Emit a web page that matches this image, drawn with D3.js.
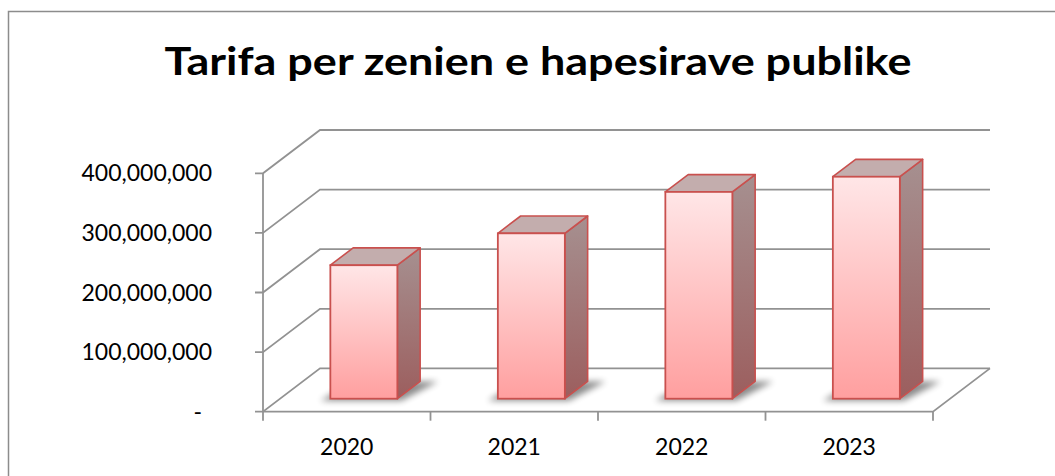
<!DOCTYPE html>
<html>
<head>
  <meta charset="utf-8">
  <script src="https://d3js.org/d3.v7.min.js"></script>
  <style>
    body { margin: 0; background: #fff; }
    .tick-label { font-family: Lato, "Open Sans", sans-serif; font-size: 23px; fill: #000; }
    .title { font-family: Lato, "Open Sans", sans-serif; font-size: 39px; font-weight: bold; fill: #000; }
  </style>
</head>
<body>
  <svg width="1055" height="476"></svg>
  <script>
    const years = ['2020', '2021', '2022', '2023'];
    const values = [224000000, 277500000, 347000000, 372500000];
    const yTicks = [0, 100000000, 200000000, 300000000, 400000000];
    const title = 'Tarifa per zenien e hapesirave publike';

    const svg = d3.select('svg');
    const defs = svg.append('defs');

    // front plane of the plot and the depth offset of the back wall
    const plot = { left: 263, right: 933, top: 173.3, bottom: 411.7 };
    const depth = { dx: 57, dy: -43.3 };
    const barDepth = [0.3, 0.7];

    const xScale = d3.scaleBand().domain(years).range([plot.left, plot.right]).padding(0);
    const yScale = d3.scaleLinear().domain([0, 400000000]).range([plot.bottom, plot.top]);
    const fmt = d3.format(',');

    const front = defs.append('linearGradient').attr('id', 'front')
      .attr('x1', 0).attr('y1', 0).attr('x2', 0).attr('y2', 1);
    front.append('stop').attr('offset', '0%').attr('stop-color', '#ffe6e7');
    front.append('stop').attr('offset', '100%').attr('stop-color', '#ff9f9f');
    const side = defs.append('linearGradient').attr('id', 'side')
      .attr('x1', 0).attr('y1', 0).attr('x2', 0).attr('y2', 1);
    side.append('stop').attr('offset', '0%').attr('stop-color', '#a69090');
    side.append('stop').attr('offset', '100%').attr('stop-color', '#9c5e5e');
    defs.append('filter').attr('id', 'blur')
      .attr('x', '-50%').attr('y', '-50%').attr('width', '200%').attr('height', '200%')
      .append('feGaussianBlur').attr('stdDeviation', 3);

    // outer border
    svg.append('rect')
      .attr('x', 8.5).attr('y', 11.5).attr('width', 1060).attr('height', 480)
      .attr('fill', 'none').attr('stroke', '#8c8c8c').attr('stroke-width', 1.5);

    svg.append('text').attr('class', 'title')
      .attr('x', 538).attr('y', 75)
      .attr('text-anchor', 'middle')
      .attr('textLength', 747).attr('lengthAdjust', 'spacingAndGlyphs')
      .text(title);

    const grid = svg.append('g')
      .attr('stroke', '#929292').attr('stroke-width', 1.8).attr('fill', 'none');

    // back wall lines + left wall diagonals + tick marks
    yTicks.forEach(t => {
      const y = yScale(t);
      grid.append('path').attr('d', `M${plot.left - 8},${y}H${plot.left}l${depth.dx},${depth.dy}H${plot.right + depth.dx}`);
    });
    // left axis line
    grid.append('path').attr('d', `M${plot.left},${yScale(400000000)}V${plot.bottom}`);
    // floor front edge and right edge
    grid.append('path').attr('d', `M${plot.left},${plot.bottom}H${plot.right}l${depth.dx},${depth.dy}`);
    // category ticks
    years.concat(['end']).forEach((c, i) => {
      const x = plot.left + i * xScale.bandwidth();
      grid.append('path').attr('d', `M${x},${plot.bottom}v9`);
    });

    // y labels
    svg.append('g').selectAll('text').data(yTicks).join('text')
      .attr('class', 'tick-label')
      .attr('x', d => d === 0 ? 202 : 212)
      .attr('y', d => yScale(d))
      .attr('dy', '0.35em')
      .attr('text-anchor', 'end')
      .text(d => d === 0 ? '-' : fmt(d));

    // x labels
    svg.append('g').selectAll('text').data(years).join('text')
      .attr('class', 'tick-label')
      .attr('x', d => xScale(d) + xScale.bandwidth() / 2)
      .attr('y', 447)
      .attr('dy', '0.35em')
      .attr('text-anchor', 'middle')
      .text(d => d);

    // bars
    const bw = xScale.bandwidth() * 0.4;
    const f0 = { dx: depth.dx * barDepth[0], dy: depth.dy * barDepth[0] };
    const dd = { dx: depth.dx * (barDepth[1] - barDepth[0]), dy: depth.dy * (barDepth[1] - barDepth[0]) };

    const bars = svg.append('g').selectAll('g').data(years.map((y, i) => ({ year: y, value: values[i] })))
      .join('g')
      .attr('transform', d => {
        const x = xScale(d.year) + (xScale.bandwidth() - bw) / 2 + f0.dx;
        return `translate(${x},${f0.dy})`;
      });

    // floor shadow
    bars.append('path')
      .attr('d', d => {
        const yb = yScale(0);
        return `M${-10},${yb + 2}H${bw + 4}l${dd.dx + 14},${dd.dy - 2}H${dd.dx}Z`;
      })
      .attr('fill', '#000').attr('opacity', 0.45).attr('filter', 'url(#blur)');

    const stroke = '#c9504e';
    // side face
    bars.append('path')
      .attr('d', d => {
        const yt = yScale(d.value), yb = yScale(0);
        return `M${bw},${yt}l${dd.dx},${dd.dy}V${yb + dd.dy}l${-dd.dx},${-dd.dy}Z`;
      })
      .attr('fill', 'url(#side)').attr('stroke', stroke).attr('stroke-width', 1.6).attr('stroke-linejoin', 'round');
    // top face
    bars.append('path')
      .attr('d', d => {
        const yt = yScale(d.value);
        return `M0,${yt}l${dd.dx},${dd.dy}h${bw}l${-dd.dx},${-dd.dy}Z`;
      })
      .attr('fill', '#c3adad').attr('stroke', stroke).attr('stroke-width', 1.6).attr('stroke-linejoin', 'round');
    // front face
    bars.append('rect')
      .attr('x', 0)
      .attr('y', d => yScale(d.value))
      .attr('width', bw)
      .attr('height', d => yScale(0) - yScale(d.value))
      .attr('fill', 'url(#front)').attr('stroke', stroke).attr('stroke-width', 1.8);
  </script>
</body>
</html>
